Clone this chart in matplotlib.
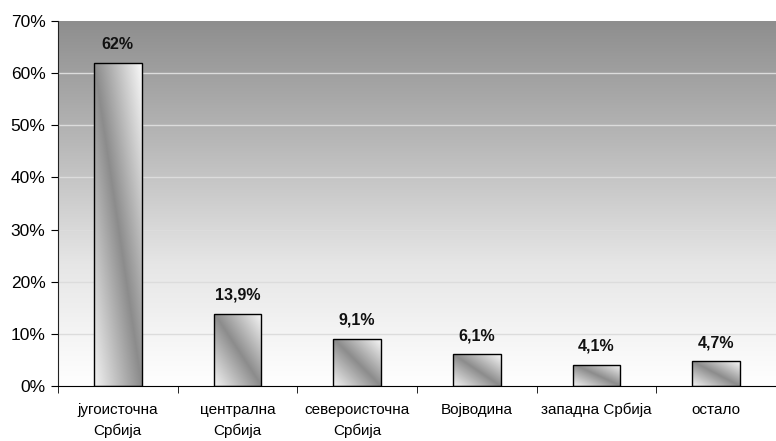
import numpy as np
import matplotlib
matplotlib.use("Agg")
import matplotlib.pyplot as plt
from matplotlib.colors import LinearSegmentedColormap
from matplotlib.ticker import FixedLocator

categories = ["југоисточна\nСрбија", "централна\nСрбија", "североисточна\nСрбија",
              "Војводина", "западна Србија", "остало"]
values = [62.0, 13.9, 9.1, 6.1, 4.1, 4.7]
value_labels = ["62%", "13,9%", "9,1%", "6,1%", "4,1%", "4,7%"]
yticks = [0, 10, 20, 30, 40, 50, 60, 70]
ytick_labels = ["0%", "10%", "20%", "30%", "40%", "50%", "60%", "70%"]

plt.rcParams['font.family'] = ['Liberation Sans', 'DejaVu Sans']

fig = plt.figure(figsize=(7.76, 4.41), dpi=100)
ax = fig.add_axes([58/776, 1 - 386/441, 1 - 58/776, (386 - 21)/441])

n = len(categories)
x = np.arange(n)
ax.set_xlim(-0.5, n - 0.5)
ax.set_ylim(0, 70)

# background gradient
bg = LinearSegmentedColormap.from_list("bg", ["#ffffff", "#e6e6e6", "#b8b8b8", "#8e8e8e"])
grad = np.linspace(0, 1, 256).reshape(-1, 1)
ax.imshow(grad, cmap=bg, aspect='auto', extent=(-0.5, n - 0.5, 0, 70),
          origin='lower', zorder=0, interpolation='bicubic')

# gridlines
for yv in yticks[1:-1]:
    ax.axhline(yv, color="#dcdcdc", lw=1.0, zorder=1)

bars = ax.bar(x, values, width=0.4, facecolor='none', edgecolor='black', lw=1.0, zorder=3)

barcm = LinearSegmentedColormap.from_list("bar", ["#f2f2f2", "#8c8c8c", "#f8f8f8"])
uu, vv = np.meshgrid(np.linspace(0, 1, 100), np.linspace(0, 1, 200))
t = (uu - vv + 1.0) / 2.0
for b in bars:
    x0, y0 = b.get_x(), b.get_y()
    w, h = b.get_width(), b.get_height()
    im = ax.imshow(t, cmap=barcm, aspect='auto', extent=(x0, x0 + w, y0, y0 + h),
                   origin='upper', zorder=2, interpolation='bilinear')
    im.set_clip_path(b)

for xi, v, lab in zip(x, values, value_labels):
    ax.annotate(lab, (xi, v), xytext=(0, 8), textcoords='offset points',
                ha='center', va='bottom', fontsize=11.5, fontweight='bold', color='#111111')

ax.set_yticks(yticks)
ax.set_yticklabels(ytick_labels, fontsize=12.5)
ax.set_xticks(x)
ax.set_xticklabels(categories, fontsize=11, linespacing=1.6, va='top')
ax.tick_params(axis='x', which='major', length=0, pad=12)
ax.xaxis.set_minor_locator(FixedLocator(np.arange(-0.5, n, 1.0)))
ax.tick_params(axis='x', which='minor', length=5, color='black', direction='out')
ax.tick_params(axis='y', length=5, color='black', direction='out', pad=4)

for s in ['top', 'right']:
    ax.spines[s].set_visible(False)
ax.spines['left'].set_color('#222222')
ax.spines['bottom'].set_color('black')
ax.spines['left'].set_zorder(4)
ax.spines['bottom'].set_zorder(4)

fig.savefig("out.png", dpi=100)
